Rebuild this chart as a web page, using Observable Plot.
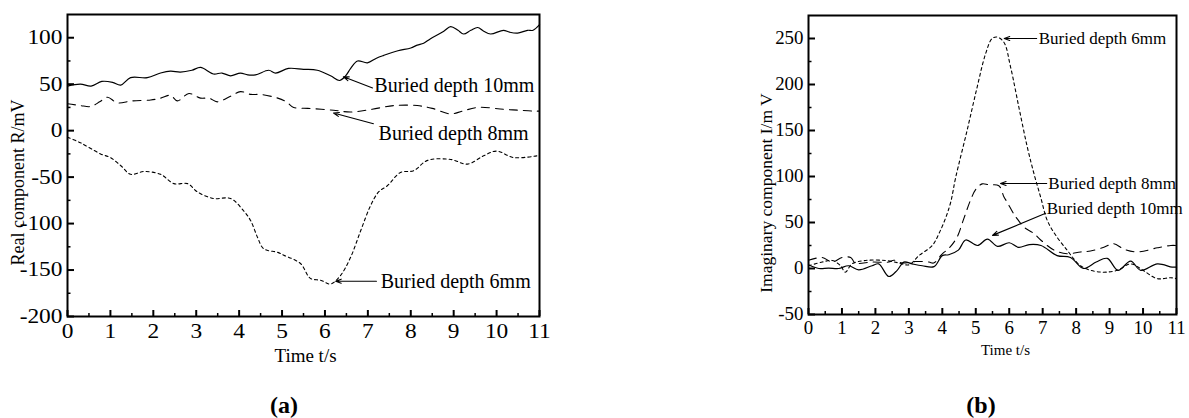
<!DOCTYPE html>
<html><head><meta charset="utf-8">
<script src="https://cdn.jsdelivr.net/npm/d3@7"></script>
<script src="https://cdn.jsdelivr.net/npm/@observablehq/plot@0.6"></script>
<style>
body{margin:0;background:#fff;}
#wrap{position:relative;width:1189px;height:418px;background:#fff;overflow:hidden;}
#pa{position:absolute;left:0;top:0;}
#pb{position:absolute;left:740px;top:0;}
.cap{position:absolute;font-family:"Liberation Serif",serif;font-weight:bold;font-size:24px;transform:translate(-50%,-50%);color:#000;}
</style></head><body>
<div id="wrap">
  <div id="pa"></div><div id="pb"></div>
  <div class="cap" style="left:284px;top:405px">(a)</div>
  <div class="cap" style="left:981px;top:405px">(b)</div>
</div>
<script>
// ---------- shared ticks ----------
const timeTicks = [0,1,2,3,4,5,6,7,8,9,10,11];
const timeMinor = [0.5,1.5,2.5,3.5,4.5,5.5,6.5,7.5,8.5,9.5,10.5];
const xLabel = "Time t/s";

// ---------- panel (a): real component ----------
const realTicks = [-200,-150,-100,-50,0,50,100];
const realMinor = [-175,-125,-75,-25,25,75];
const realLabel = "Real component R/mV";

const tReal10 = [0,0.3,0.55,0.8,1.05,1.24,1.47,1.86,2.17,2.4,2.63,2.9,3.1,3.4,3.6,3.8,4.03,4.2,4.38,4.69,4.85,5.15,5.5,5.82,6.13,6.34,6.48,6.6,6.76,6.99,7.2,7.37,7.7,8.0,8.15,8.3,8.46,8.77,8.93,9.1,9.23,9.4,9.56,9.7,9.86,10.16,10.3,10.49,10.72,10.85,11];
const vReal10 = [48,50,48,53,52,49,57,57,62,64,63,65,68,61,62,59,62,60,60,65,62,67,66,65,59,54,59,67,75,73,78,81,86,89,92,94,99,107,112,108,104,108,111,107,104,108,106,105,108,108,114];

const tReal8 = [0,0.3,0.54,0.75,0.93,1.16,1.5,1.94,2.17,2.4,2.56,2.83,3.1,3.3,3.49,3.8,4.03,4.27,4.5,4.9,5.1,5.27,5.6,6.2,6.6,7.1,7.6,8.15,8.5,8.93,9.2,9.56,10.16,10.5,10.86,11];
const vReal8 = [29,27,26,31,36,30,32,33,35,38,32,40,35,35,31,37,42,39,39,35,31,25,24,22,20,23,27,27,24,18,21,25,23,22,21,21];

const tReal6 = [0,0.3,0.77,1.0,1.25,1.47,1.78,2.17,2.48,2.8,3.03,3.4,3.8,4.1,4.27,4.43,4.57,4.9,5.04,5.43,5.66,5.9,6.13,6.36,6.6,6.83,7.06,7.25,7.46,7.76,8.07,8.39,8.93,9.32,9.7,10.0,10.4,10.95];
const vReal6 = [-7,-13,-25,-29,-38,-47,-44,-47,-57,-57,-66,-73,-73,-86,-97,-115,-127,-131,-134,-143,-159,-161,-165,-156,-136,-108,-81,-66,-59,-45,-43,-32,-31,-36,-27,-22,-29,-27];

const realNotes = [
  {label:"Buried depth 10mm", x1:7.11, y1:46, x2:6.43, y2:58, tx:7.15, ty:49},
  {label:"Buried depth 8mm",  x1:7.13, y1:7.5, x2:6.2, y2:19, tx:7.25, ty:-3},
  {label:"Buried depth 6mm",  x1:7.2, y1:-162, x2:6.25, y2:-162, tx:7.3, ty:-162}
];

// ---------- panel (b): imaginary component ----------
const imagTicks = [-50,0,50,100,150,200,250];
const imagMinor = [-25,25,75,125,175,225];
const imagLabel = "Imaginary component I/m V";

const tImag10 = [0,0.31,0.6,0.9,1.2,1.5,1.9,2.1,2.4,2.65,2.85,3.1,3.4,3.75,4.0,4.19,4.48,4.7,5.05,5.35,5.65,6.0,6.28,6.6,6.95,7.43,7.83,8.22,8.6,8.93,9.25,9.63,9.93,10.43,10.87,11];
const vImag10 = [4,0,0.5,0,3,-1.5,3,5,-8.7,-2,7,5,3,2,14,15,20,31,25,32,24,28,23,26,25,14,12,0,7,11,-2,8,-2,5,1.5,1.5];

const tImag8 = [0,0.41,0.71,1.0,1.26,1.4,1.9,2.4,2.55,2.8,3.2,3.6,3.74,4.0,4.2,4.44,4.64,4.84,5.0,5.19,5.39,5.69,5.84,5.94,6.14,6.24,6.44,6.74,6.94,7.34,7.73,8.13,8.43,8.83,9.12,9.43,9.83,10.43,10.83,11];
const vImag8 = [9,12,7,12,12,6,7,7,9,6,7.6,7,6,16,22,34,54,74,86,92,91,90,78,72,59,54,45,38,31,20,16,18,19,23,27,21,18,22.5,25,25];

const tImag6 = [0,0.41,0.71,0.96,1.1,1.3,1.7,2.3,2.7,3.0,3.3,3.7,3.9,4.1,4.25,4.4,4.74,5.04,5.29,5.49,5.64,5.84,6.04,6.29,6.54,6.74,6.94,7.14,7.43,7.73,7.93,8.13,8.43,8.83,9.23,9.63,10.0,10.42,10.83,11];
const vImag6 = [3,7,8.7,3,-4,5,8.7,8.7,6,4,14,25,38,55,72,99,150,197,233,250,251.5,246,219,175,132,103,77.5,52,34,20,10.5,3,-2,-4,-2,5,-2,-11,-10,-11];

const imagNotes = [
  {label:"Buried depth 6mm",  x1:6.82, y1:250, x2:5.85, y2:250, tx:6.88, ty:250},
  {label:"Buried depth 8mm",  x1:7.12, y1:92.4, x2:5.74, y2:92.4, tx:7.17, ty:92.4},
  {label:"Buried depth 10mm", x1:7.09, y1:60, x2:5.5, y2:36, tx:7.12, ty:65}
];

const seriesStyle = {
  "10mm": {dash: null, width: 1.2},
  "8mm": {dash: "8,6", width: 1.1},
  "6mm": {dash: "3,3", width: 1.1}
};

const FONT = '"Liberation Serif", "Times New Roman", serif';

function rows(name, ts, vs) { return ts.map((t, i) => ({series: name, t, v: vs[i]})); }

function panel(cfg) {
  const fw = cfg.width - cfg.ml - cfg.mr;
  const fh = cfg.height - cfg.mt - cfg.mb;
  const lineMarks = cfg.series.map(s => Plot.line(rows(s.name, s.t, s.v), {
    x: "t", y: "v", stroke: "black", strokeWidth: seriesStyle[s.name].width,
    strokeDasharray: seriesStyle[s.name].dash || undefined, curve: "catmull-rom"
  }));
  const svg = Plot.plot({
    width: cfg.width, height: cfg.height,
    marginLeft: cfg.ml, marginRight: cfg.mr, marginTop: cfg.mt, marginBottom: cfg.mb,
    style: {fontFamily: FONT, background: "white", color: "black", overflow: "visible"},
    x: {domain: [0, 11], axis: null},
    y: {domain: cfg.yDomain, axis: null},
    marks: [
      ...lineMarks,
      Plot.tickX(timeTicks, {x: d => d, insetTop: fh - 6, stroke: "black", strokeWidth: 2}),
      Plot.tickX(timeMinor, {x: d => d, insetTop: fh - 3, stroke: "black", strokeWidth: 1.5}),
      Plot.tickY(cfg.yTicks, {y: d => d, insetRight: fw - 7, stroke: "black", strokeWidth: 2}),
      Plot.tickY(cfg.yMinor, {y: d => d, insetRight: fw - 3.5, stroke: "black", strokeWidth: 1.5}),
      Plot.axisX({ticks: timeTicks, tickSize: 0, tickPadding: cfg.xPad, fontSize: cfg.tickFont, fontFamily: FONT, label: null, tickFormat: d => String(d)}),
      Plot.axisY({ticks: cfg.yTicks, tickSize: 0, tickPadding: 5, fontSize: cfg.tickFont, fontFamily: FONT, label: null, tickFormat: d => String(d)}),
      Plot.frame({stroke: "black", strokeWidth: 2}),
      Plot.arrow(cfg.notes, {x1: "x1", y1: "y1", x2: "x2", y2: "y2", stroke: "black", strokeWidth: 1.1, headLength: 8, headAngle: 40}),
      Plot.text(cfg.notes, {x: "tx", y: "ty", text: "label", textAnchor: "start", lineAnchor: "middle", fontSize: cfg.noteFont, fontFamily: FONT, fill: "black"}),
      Plot.text([xLabel], {text: d => d, frameAnchor: "bottom", textAnchor: "middle", lineAnchor: "middle", dx: cfg.xlDx, dy: cfg.xlDy, fontSize: cfg.xlFont, fontFamily: FONT, fill: "black"}),
      Plot.text([cfg.yLabel], {text: d => d, frameAnchor: "left", textAnchor: "middle", lineAnchor: "middle", rotate: -90, dx: cfg.ylDx, dy: cfg.ylDy, fontSize: cfg.ylFont, fontFamily: FONT, fill: "black"})
    ]
  });
  // tick labels: serif face, size, and the slightly wide digits of the original
  svg.querySelectorAll('g[aria-label$="tick label"]').forEach(g => {
    g.setAttribute("font-family", FONT);
    g.setAttribute("font-size", cfg.tickFont);
    g.style.fontFamily = FONT;
    g.style.fontSize = cfg.tickFont + "px";
    g.querySelectorAll("text").forEach(t => {
      const tr = t.getAttribute("transform");
      if (tr) t.setAttribute("transform", tr + ` scale(${cfg.tickScale},1)`);
    });
  });
  return svg;
}

document.getElementById("pa").appendChild(panel({
  width: 560, height: 370, ml: 67, mr: 21, mt: 14, mb: 54,
  yDomain: [-200, 125], yTicks: realTicks, yMinor: realMinor, yLabel: realLabel,
  series: [{name: "10mm", t: tReal10, v: vReal10}, {name: "8mm", t: tReal8, v: vReal8}, {name: "6mm", t: tReal6, v: vReal6}],
  notes: realNotes, tickFont: 20, tickScale: 1.17, noteFont: 20, xPad: 7, xlFont: 19, xlDx: 2, xlDy: 39, ylFont: 18, ylDx: -49, ylDy: 17
}));

document.getElementById("pb").appendChild(panel({
  width: 449, height: 370, ml: 68, mr: 13, mt: 15, mb: 56,
  yDomain: [-50, 275], yTicks: imagTicks, yMinor: imagMinor, yLabel: imagLabel,
  series: [{name: "10mm", t: tImag10, v: vImag10}, {name: "8mm", t: tImag8, v: vImag8}, {name: "6mm", t: tImag6, v: vImag6}],
  notes: imagNotes, tickFont: 18, tickScale: 1.05, noteFont: 17, xPad: 7, xlFont: 15, xlDx: 13, xlDy: 36, ylFont: 17.5, ylDx: -42, ylDy: 28
}));
</script>
</body></html>
